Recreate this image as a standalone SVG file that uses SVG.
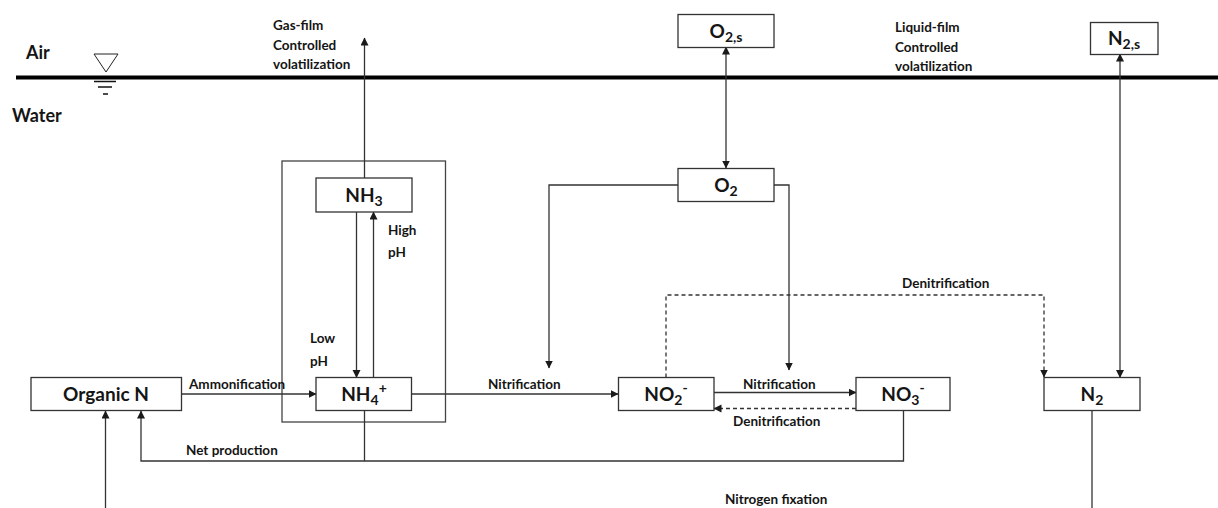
<svg xmlns="http://www.w3.org/2000/svg" width="1218" height="508" viewBox="0 0 1218 508">
<style>
text{font-family:Lato,"Liberation Sans",sans-serif;font-weight:700;fill:#151515}
.l{font-size:13.5px}
.n{font-size:19px;text-anchor:middle}
.h{font-size:18px}
.s{font-size:14px}
.box{fill:#fff;stroke:#333;stroke-width:1.3}
.c{fill:none;stroke:#333;stroke-width:1.3}
.d{stroke-dasharray:4 3}
</style>
<defs>
<marker id="a" markerUnits="userSpaceOnUse" markerWidth="9" markerHeight="9" refX="7.5" refY="4" orient="auto-start-reverse"><path d="M0 0L8 4L0 8Z" fill="#1a1a1a"/></marker>
</defs>
<rect width="1218" height="508" fill="#fff"/>
<g id="surface">
<path d="M16 77.5H1218" stroke="#000" stroke-width="4" fill="none"/>
<path d="M94 54H118L106 72Z" fill="#fff" stroke="#222" stroke-width="1"/>
<path d="M94 81.5H116M98 87H112M103 94H108" stroke="#111" stroke-width="1.6" fill="none"/>
</g>
<g id="frame"><rect x="282" y="161" width="163.500" height="261" fill="none" stroke="#444" stroke-width="1.300"/></g>
<g id="connectors">
<path class="c" marker-end="url(#a)" d="M364.500 178V38"/>
<path class="c" marker-end="url(#a)" d="M356.500 212V377.500"/>
<path class="c" marker-end="url(#a)" d="M373.500 377.500V212"/>
<path class="c" marker-end="url(#a)" d="M182 394H316"/>
<path class="c" marker-end="url(#a)" d="M412 394H618"/>
<path class="c" marker-end="url(#a)" d="M714 392.500H856"/>
<path class="c d" marker-end="url(#a)" d="M856 408.500H714"/>
<path class="c" marker-end="url(#a)" d="M903.500 411V461H141V411"/>
<path class="c" d="M364.500 411V461"/>
<path class="c" marker-end="url(#a)" d="M105.500 508V411"/>
<path class="c" marker-end="url(#a)" marker-start="url(#a)" d="M726 47V168"/>
<path class="c" marker-end="url(#a)" marker-start="url(#a)" d="M1120 54V377.500"/>
<path class="c" marker-end="url(#a)" d="M678 185H549V368"/>
<path class="c" marker-end="url(#a)" d="M774 185H789V370"/>
<path class="c d" marker-end="url(#a)" d="M666 377.500V295H1044V377"/>
<path class="c" d="M1092 411V508"/>
</g>
<g id="node-nh3"><rect class="box" x="316" y="178" width="96" height="34"/><text class="n" x="364" y="202">NH<tspan class="s" dy="4">3</tspan></text></g>
<g id="node-organic-n"><rect class="box" x="31" y="377.500" width="150.500" height="33"/><text class="n" x="106" y="401">Organic N</text></g>
<g id="node-nh4"><rect class="box" x="316" y="377.500" width="95.500" height="33"/><text class="n" x="364" y="401">NH<tspan class="s" dy="4">4</tspan><tspan class="s" dy="-12">+</tspan></text></g>
<g id="node-no2"><rect class="box" x="618.500" y="377.500" width="95.500" height="33"/><text class="n" x="666" y="401">NO<tspan class="s" dy="4">2</tspan><tspan class="s" dy="-12">-</tspan></text></g>
<g id="node-no3"><rect class="box" x="856" y="377.500" width="94" height="33"/><text class="n" x="903" y="401">NO<tspan class="s" dy="4">3</tspan><tspan class="s" dy="-12">-</tspan></text></g>
<g id="node-n2"><rect class="box" x="1044" y="377.500" width="96" height="33"/><text class="n" x="1092" y="401">N<tspan class="s" dy="4">2</tspan></text></g>
<g id="node-o2"><rect class="box" x="678" y="168.500" width="96" height="33"/><text class="n" x="726" y="192">O<tspan class="s" dy="4">2</tspan></text></g>
<g id="node-o2s"><rect class="box" x="678" y="14.500" width="96" height="33"/><text class="n" x="726" y="38">O<tspan class="s" dy="4">2,s</tspan></text></g>
<g id="node-n2s"><rect class="box" x="1090.500" y="22.500" width="67.500" height="32"/><text class="n" x="1124" y="45">N<tspan class="s" dy="4">2,s</tspan></text></g>
<g id="labels">
<text class="h" x="26" y="59">Air</text>
<text class="h" x="12" y="122">Water</text>
<text class="l" x="273" y="30">Gas-film</text>
<text class="l" x="273" y="50">Controlled</text>
<text class="l" x="273" y="69">volatilization</text>
<text class="l" x="895" y="32">Liquid-film</text>
<text class="l" x="895" y="52">Controlled</text>
<text class="l" x="895" y="71">volatilization</text>
<text class="l" x="388" y="235">High</text>
<text class="l" x="388" y="257">pH</text>
<text class="l" x="310" y="343">Low</text>
<text class="l" x="310" y="366">pH</text>
<text class="l" x="189" y="389">Ammonification</text>
<text class="l" x="488" y="389">Nitrification</text>
<text class="l" x="743" y="389">Nitrification</text>
<text class="l" x="733" y="426">Denitrification</text>
<text class="l" x="186" y="455">Net production</text>
<text class="l" x="902" y="288">Denitrification</text>
<text class="l" x="725" y="504">Nitrogen fixation</text>
</g>
</svg>
